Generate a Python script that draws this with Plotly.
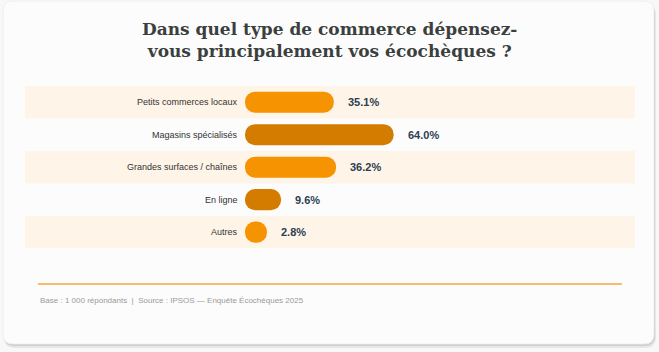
import plotly.graph_objects as go

# ---- data ----
categories = ["Petits commerces locaux", "Magasins spécialisés", "Grandes surfaces / chaînes", "En ligne", "Autres"]
values = [35.1, 64.0, 36.2, 9.6, 2.8]
value_labels = ["35.1%", "64.0%", "36.2%", "9.6%", "2.8%"]
title_text = "Dans quel type de commerce dépensez-<br>vous principalement vos écochèques ?"
footer_text = "Base : 1 000 répondants  |  Source : IPSOS — Enquête Écochèques 2025"

# ---- styles ----
W, H = 659, 352
PAD = 7.8  # visual cap so tiny bars remain pill-shaped
bar_colors = ["#F59300", "#D37C00", "#F59300", "#D37C00", "#F59300"]
band_color = "#FFF4E8"
card_color = "#FCFCFC"

def px(x):
    return x / W

def py(y):
    return 1 - y / H

fig = go.Figure()
fig.add_trace(go.Bar(
    orientation="h",
    y=categories,
    x=[v + PAD for v in values],
    base=[-PAD] * len(values),
    width=0.65,
    marker=dict(color=bar_colors, cornerradius="50%", line=dict(width=0)),
    hoverinfo="skip",
))

def rrect(x0, y0, x1, y1, r):
    X0, X1 = px(x0), px(x1)
    Y0, Y1 = py(y0), py(y1)
    rx, ry = r / W, r / H
    return (f"M {X0+rx},{Y0} L {X1-rx},{Y0} Q {X1},{Y0} {X1},{Y0-ry} "
            f"L {X1},{Y1+ry} Q {X1},{Y1} {X1-rx},{Y1} L {X0+rx},{Y1} "
            f"Q {X0},{Y1} {X0},{Y1+ry} L {X0},{Y0-ry} Q {X0},{Y0} {X0+rx},{Y0} Z")

shapes = [
    dict(type="path", xref="paper", yref="paper", path=rrect(4, 4, 656, 348, 11),
         fillcolor="rgba(0,0,0,0.07)", line=dict(width=0), layer="below"),
    dict(type="path", xref="paper", yref="paper", path=rrect(3.5, 3, 655, 346, 11),
         fillcolor="rgba(0,0,0,0.10)", line=dict(width=0), layer="below"),
    dict(type="path", xref="paper", yref="paper", path=rrect(3, 1, 654, 344, 10),
         fillcolor=card_color, line=dict(color="#ECECEC", width=0.8), layer="below"),
]
for i in range(0, len(categories), 2):
    shapes.append(dict(type="rect", xref="paper", yref="y", x0=px(25), x1=px(635),
                       y0=i - 0.5, y1=i + 0.5, fillcolor=band_color,
                       line=dict(width=0), layer="below"))
shapes.append(dict(type="line", xref="paper", yref="paper", x0=px(38), x1=px(622),
                   y0=py(284), y1=py(284), line=dict(color="#F5A83A", width=1.6)))

annotations = []
for c in categories:
    annotations.append(dict(x=px(240), xref="paper", y=c, yref="y", text=c,
                            xanchor="right", yanchor="middle", showarrow=False,
                            font=dict(family="Liberation Sans, Arial", size=9, color="#333333")))
for c, v, t in zip(categories, values, value_labels):
    annotations.append(dict(x=v, xref="x", y=c, yref="y", text=f"<b>{t}</b>",
                            xanchor="left", yanchor="middle", xshift=12, showarrow=False,
                            font=dict(family="Liberation Sans, Arial", size=11, color="#2C3E50")))
annotations.append(dict(x=0.5, xref="paper", y=py(17), yref="paper", text=f"<b>{title_text}</b>",
                        xanchor="center", yanchor="top", showarrow=False,
                        font=dict(family="DejaVu Serif", size=17, color="#3B3F3D")))
annotations.append(dict(x=px(38), xref="paper", y=py(300), yref="paper", text=footer_text,
                        xanchor="left", yanchor="middle", showarrow=False,
                        font=dict(family="Liberation Sans, Arial", size=8, color="#9A9A9A")))

x_lo = -PAD
x_hi = x_lo + (635 - 245) / 2.07
fig.update_layout(
    width=W, height=H,
    margin=dict(l=0, r=0, t=0, b=0),
    paper_bgcolor="#F8F8F8",
    plot_bgcolor="rgba(0,0,0,0)",
    showlegend=False,
    shapes=shapes,
    annotations=annotations,
    xaxis=dict(domain=[px(245), px(635)], range=[x_lo, x_hi], visible=False, fixedrange=True),
    yaxis=dict(domain=[py(248.4), py(86)], range=[len(categories) - 0.5, -0.5],
               visible=False, fixedrange=True, type="category"),
)
fig.write_html("out.html")
